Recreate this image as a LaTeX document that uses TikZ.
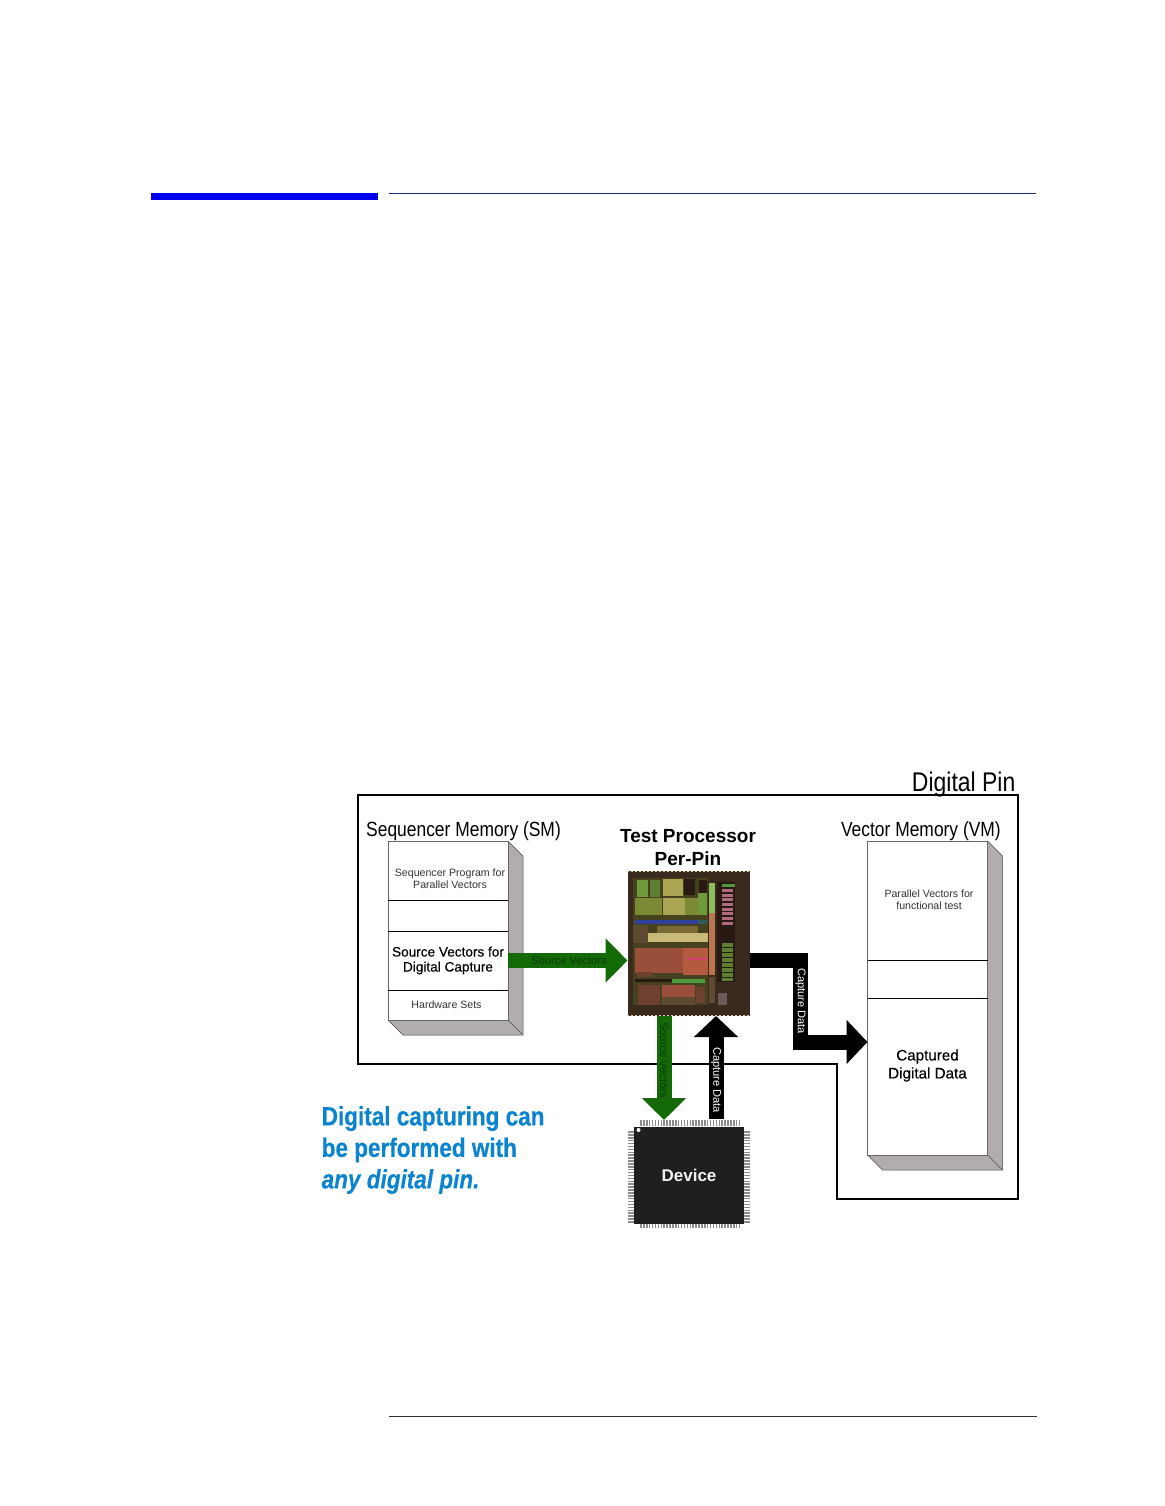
\documentclass[tikz,border=0pt]{standalone}
\usepackage{fontspec}
\setmainfont{Liberation Sans}
\newfontfamily\narrowfont[FakeStretch=.85]{Liberation Sans}
\newfontfamily\capfont[FakeStretch=.85,FakeBold=.35]{Liberation Sans}
\newfontfamily\semifont[FakeBold=.35]{Liberation Sans}
\usetikzlibrary{arrows.meta,positioning}
\newcommand{\pxfont}[2]{\fontsize{#1}{#2}\selectfont}
\definecolor{headblue}{HTML}{0000F0}
\definecolor{ruleblue}{HTML}{1A2A80}
\definecolor{boxgray}{HTML}{B2ACAC}
\definecolor{busgreen}{HTML}{156A08}
\definecolor{labgreen}{HTML}{083A08}
\definecolor{capblue}{HTML}{0A84CE}
\definecolor{chipbase}{HTML}{3A2A1E}
\definecolor{chipfill}{HTML}{46421F}
\definecolor{chipdark}{HTML}{281A12}
\definecolor{chipgreen}{HTML}{6F9A3E}
\definecolor{chipmoss}{HTML}{5F7F35}
\definecolor{chipkhaki}{HTML}{A9A552}
\definecolor{chipolive}{HTML}{7D8A35}
\definecolor{chiplime}{HTML}{8FBF5A}
\definecolor{chipsalmon}{HTML}{B8754F}
\definecolor{chipblue}{HTML}{2E3F9C}
\definecolor{chipteal}{HTML}{2F5A55}
\definecolor{chipcream}{HTML}{C9B878}
\definecolor{chiptan}{HTML}{7A6A35}
\definecolor{chiprust}{HTML}{9A4F3A}
\definecolor{chipred}{HTML}{B35A3F}
\definecolor{chippink}{HTML}{D0406F}
\definecolor{chipbrown}{HTML}{6E4030}
\definecolor{chipumber}{HTML}{5E4A30}
\definecolor{chipgrey}{HTML}{6C5A58}
\definecolor{chipleaf}{HTML}{4F9A3E}
\definecolor{chiprose}{HTML}{B06A80}
\begin{document}
\begin{tikzpicture}[
        x=1pt, y=-1pt,
        row/.style={rectangle, draw=black!60, line width=.6pt, fill=white, minimum width=120pt, inner sep=0pt, outer sep=0pt},
        divider/.style={black, line width=1pt},
        side/.style={fill=boxgray, draw=black!70, line width=.5pt, line join=round},
        smalltext/.style={font=\pxfont{10.6}{12.4}, text=black!80, align=center, inner sep=0pt},
        midtext/.style={font=\semifont\pxfont{13.6}{15}, align=center, inner sep=0pt},
        headtext/.style={font=\narrowfont\pxfont{20.5}{22}, inner sep=0pt},
        greenbus/.style={line width=15pt, busgreen, -{Triangle[length=22pt,width=43pt]}},
        blackbus/.style={line width=15pt, black, line join=miter, -{Triangle[length=21pt,width=43pt]}},
        buslabel/.style={font=\pxfont{11.1}{12}, inner sep=0pt}
    ]
    \useasboundingbox (0,0) rectangle (1164,1506);
    \fill[white] (0,0) rectangle (1164,1506);

    % page rules
    \fill[headblue] (151,193) rectangle (378,200);
    \draw[ruleblue, line width=.9pt] (389,193.5) -- (1036,193.5);
    \draw[black!80, line width=.9pt] (389,1416) -- (1037,1416);

    % pin outline
    \draw[black, line width=1.1pt] (358,795) -- (1018,795) -- (1018,1199) -- (837,1199) -- (837,1064) -- (358,1064) -- cycle;
    \node[font=\narrowfont\pxfont{27}{27}, anchor=base east, inner sep=0pt] (pintitle) at (1015.5,791) {Digital Pin};

    % sequencer memory
    \fill[side] (508,841) -- (523,856) -- (523,1035) -- (403,1035) -- (388,1020) -- (508,1020) -- cycle;
    \draw[black!70, line width=.5pt] (508,1020) -- (523,1035);
    \node[row, minimum height=59.5pt] (smprog) at (448,870.75) {};
    \node[row, minimum height=30.5pt, below=0pt of smprog] (smgap) {};
    \node[row, minimum height=59pt, below=0pt of smgap] (smsrc) {};
    \node[row, minimum height=30pt, below=0pt of smsrc] (smhw) {};
    \foreach \rowname in {smprog,smgap,smsrc} {
        \draw[divider] (\rowname.south west) -- (\rowname.south east);
    }
    \node[headtext, anchor=base west] (smtitle) at (366,836.5) {Sequencer Memory (SM)};
    \node[smalltext] (smproglab) at (450,879) {Sequencer Program for\\Parallel Vectors};
    \node[midtext] (smsrclab) at (448,960.5) {Source Vectors for\\Digital Capture};
    \node[smalltext] (smhwlab) at (446.5,1005) {Hardware Sets};

    % vector memory
    \fill[side] (987.5,841) -- (1002.5,856) -- (1002.5,1170) -- (882.5,1170) -- (867.5,1155) -- (987.5,1155) -- cycle;
    \draw[black!70, line width=.5pt] (987.5,1155) -- (1002.5,1170);
    \node[row, minimum height=119pt] (vmpar) at (927.5,900.5) {};
    \node[row, minimum height=38pt, below=0pt of vmpar] (vmgap) {};
    \node[row, minimum height=157pt, below=0pt of vmgap] (vmcap) {};
    \foreach \rowname in {vmpar,vmgap} {
        \draw[divider] (\rowname.south west) -- (\rowname.south east);
    }
    \node[headtext, anchor=base east] (vmtitle) at (1001,836.5) {Vector Memory (VM)};
    \node[smalltext] (vmparlab) at (929,900) {Parallel Vectors for\\functional test};
    \node[midtext, font=\semifont\pxfont{15.2}{18}] (vmcaplab) at (927.5,1065.5) {Captured\\Digital Data};

    % test processor
    \node[font=\bfseries\pxfont{19}{22.5}, align=center, inner sep=0pt] (tptitle) at (688,847.5) {Test Processor\\Per-Pin};
    \node[rectangle, fill=chipbase, minimum width=122pt, minimum height=145pt, inner sep=0pt, outer sep=0pt] (chip) at (688.5,943.5) {};
    \begin{scope}[shift={(620,865)}, x=.3333pt, y=-.3333pt]
        \foreach \xa/\ya/\xb/\yb/\blockcol in {
            40/38/265/420/chipfill, 290/52/345/350/chipdark,
            52/45/85/95/chipgreen, 90/45/120/95/chipmoss, 130/42/188/92/chipkhaki, 192/42/225/90/chipdark,
            238/45/262/85/chipdark, 45/100/125/150/chipolive, 130/98/195/150/chipkhaki, 195/98/235/150/chipolive,
            235/85/262/150/chipgreen, 268/55/285/145/chiplime, 268/145/285/330/chipsalmon,
            45/165/235/178/chipblue, 235/165/265/178/chipteal, 40/180/85/235/chipumber, 110/182/235/205/chiptan,
            85/205/265/232/chipcream, 45/250/190/325/chiprust, 190/250/265/330/chipred, 200/278/262/285/chippink,
            50/320/100/335/chipbrown, 45/342/155/352/chipdark, 155/342/255/354/chipleaf, 55/360/120/420/chipbrown,
            125/360/225/395/chiprust, 125/395/225/420/chipumber, 228/365/255/415/chipbrown,
            268/335/285/415/chipumber, 295/385/322/420/chipgrey, 305/58/345/66/chipleaf} {
            \fill[\blockcol] (\xa,\ya) rectangle (\xb,\yb);
        }
        \foreach \ya in {72,86,100,114,128,142,156,170} {
            \fill[chiprose] (306,\ya) rectangle (338,\ya+9);
        }
        \foreach \ya in {235,250,265,280,295,310,325,338} {
            \fill[chipmoss] (306,\ya) rectangle (338,\ya+10);
        }
        \draw[chipcream!70, line width=1pt, dash pattern=on 2pt off 2pt] (21,19) -- (387,19);
        \draw[chipcream!70, line width=1pt, dash pattern=on 2pt off 2pt] (21,451) -- (387,451);
    \end{scope}

    % device
    \foreach \i in {0,...,34} {
        \draw[black!45, line width=1.5pt] (641+\i*2.9,1120) -- (641+\i*2.9,1126);
        \draw[black!45, line width=1.5pt] (641+\i*2.9,1223) -- (641+\i*2.9,1228);
    }
    \foreach \i in {0,...,31} {
        \draw[black!45, line width=1.5pt] (628,1132+\i*2.9) -- (634,1132+\i*2.9);
        \draw[black!45, line width=1.5pt] (744,1132+\i*2.9) -- (750,1132+\i*2.9);
    }
    \node[rectangle, fill=black!88, minimum width=110pt, minimum height=97pt, inner sep=0pt, outer sep=0pt, font=\bfseries\pxfont{17}{18}, text=white!95!black] (device) at (689,1175.5) {Device};
    \fill[white] (638.5,1130) circle (2);

    % data paths
    \coordinate (capbend) at (800.5,1042);
    \coordinate (capin) at (vmcap.west |- capbend);
    \draw[greenbus] (smsrc.east) -- (smsrc.east -| chip.west);
    \draw[greenbus, shorten >=7pt] ([xshift=-24.5pt]chip.south) -- ([xshift=-25pt]device.north);
    \draw[blackbus, shorten <=8pt] ([xshift=27pt]device.north) -- ([xshift=27.5pt]chip.south);
    \draw[blackbus] (smsrc.east -| chip.east) -| (capbend) -- (capin);

    \node[buslabel, text=labgreen] (srclab) at (569,961) {Source Vectors};
    \node[buslabel, text=labgreen, rotate=-90] (srcdownlab) at (664,1060) {Source Vectors};
    \node[buslabel, text=white, rotate=-90] (capuplab) at (716,1080) {Capture Data};
    \node[buslabel, text=white, rotate=-90] (capsidelab) at (800.5,1001) {Capture Data};

    % caption
    \node[font=\capfont\bfseries\pxfont{26.5}{31.5}, text=capblue, align=left, anchor=north west, inner sep=0pt] (caption) at (321.5,1106) {Digital capturing can\\be performed with\\\itshape any digital pin.};
\end{tikzpicture}
\end{document}
